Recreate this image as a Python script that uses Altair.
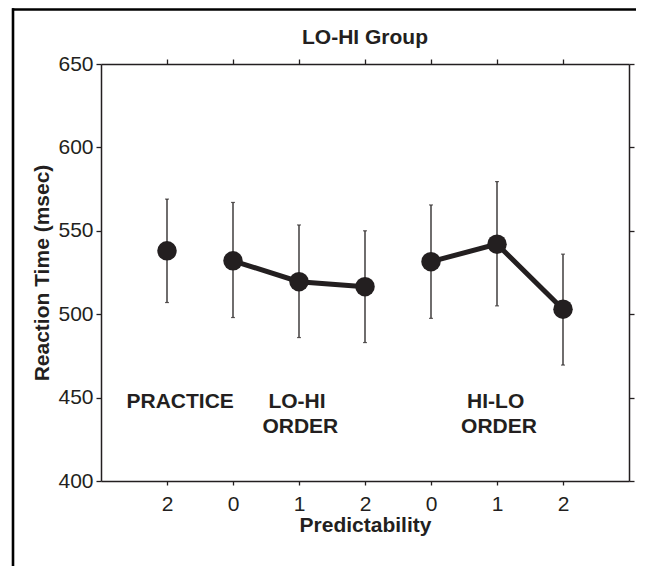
import altair as alt
import pandas as pd

# ---- data ----
positions = [1, 2, 3, 4, 5, 6, 7]
condition = ["PRACTICE", "LO-HI", "LO-HI", "LO-HI", "HI-LO", "HI-LO", "HI-LO"]
predictability = ["2", "0", "1", "2", "0", "1", "2"]
mean_rt = [538, 532, 519.5, 516.5, 531.5, 542, 503]
ci_low = [507, 498, 486, 483, 497.5, 505, 469.5]
ci_high = [569, 567, 553.5, 550, 565.5, 579.5, 536]

y_ticks = [400, 450, 500, 550, 600, 650]

ann_text = ["PRACTICE", "LO-HI", "ORDER", "HI-LO", "ORDER"]
ann_x = [1.2, 2.97, 3.02, 5.98, 6.03]
ann_y = [447.4, 447.4, 432.2, 447.4, 432.2]

chart_title = "LO-HI Group"

df = pd.DataFrame({
    "pos": positions,
    "cond": condition,
    "pred": predictability,
    "rt": mean_rt,
    "lo": ci_low,
    "hi": ci_high,
})
ann = pd.DataFrame({"text": ann_text, "x": ann_x, "y": ann_y})
title_df = pd.DataFrame({"text": [chart_title]})

INK = "#231f20"
FONT = "Liberation Sans"

label_expr = "[" + ",".join("'%s'" % p for p in predictability) + "][datum.value - 1]"

xscale = alt.Scale(domain=[0, 8], nice=False, zero=False)
yscale = alt.Scale(domain=[400, 650], nice=False, zero=False)

x_bottom = alt.Axis(orient="bottom", values=positions, labelExpr=label_expr,
                    title="Predictability", grid=False, tickSize=4,
                    labelPadding=8, titlePadding=0)
y_left = alt.Axis(orient="left", values=y_ticks, title="Reaction Time (msec)",
                  grid=False, tickSize=5, labelPadding=3, titlePadding=5)

base = alt.Chart(df)

err = base.mark_rule(color=INK, strokeWidth=1.3).encode(
    x=alt.X("pos:Q", scale=xscale, axis=x_bottom),
    y=alt.Y("lo:Q", scale=yscale, axis=y_left),
    y2="hi:Q",
)
caps_lo = base.mark_tick(color=INK, size=4, thickness=1.2, orient="horizontal").encode(
    x=alt.X("pos:Q", scale=xscale), y=alt.Y("lo:Q", scale=yscale))
caps_hi = base.mark_tick(color=INK, size=4, thickness=1.2, orient="horizontal").encode(
    x=alt.X("pos:Q", scale=xscale), y=alt.Y("hi:Q", scale=yscale))

lines = base.mark_line(color=INK, strokeWidth=5).encode(
    x=alt.X("pos:Q", scale=xscale),
    y=alt.Y("rt:Q", scale=yscale),
    detail="cond:N",
)
dots = base.mark_circle(color=INK, opacity=1, size=380).encode(
    x=alt.X("pos:Q", scale=xscale),
    y=alt.Y("rt:Q", scale=yscale),
)

texts = alt.Chart(ann).mark_text(font=FONT, fontSize=21, fontWeight="bold",
                                 color=INK, align="center", baseline="middle").encode(
    x=alt.X("x:Q", scale=xscale),
    y=alt.Y("y:Q", scale=yscale),
    text="text:N",
)

title_mark = alt.Chart(title_df).mark_text(
    font=FONT, fontSize=21, fontWeight="bold", color=INK,
    align="center", baseline="middle", clip=False
).encode(x=alt.value(264), y=alt.value(-26), text="text:N")

mirror = base.mark_point(opacity=0).encode(
    x=alt.X("pos:Q", scale=xscale,
            axis=alt.Axis(orient="top", values=positions, labels=False, title=None,
                          grid=False, tickSize=5)),
    y=alt.Y("rt:Q", scale=yscale,
            axis=alt.Axis(orient="right", values=y_ticks, labels=False, title=None,
                          grid=False, tickSize=5)),
)

frame_top = alt.Chart(title_df).mark_rule(color="black", strokeWidth=2.6, clip=False).encode(
    x=alt.value(-89), x2=alt.value(535), y=alt.value(-54.5))
frame_left = alt.Chart(title_df).mark_rule(color="black", strokeWidth=2.6, clip=False).encode(
    x=alt.value(-88), y=alt.value(-55.8), y2=alt.value(502))

main = alt.layer(err, caps_lo, caps_hi, lines, dots, texts)

chart = alt.layer(main, mirror, title_mark, frame_top, frame_left).resolve_axis(
    x="independent", y="independent"
).properties(
    width=528, height=417,
    autosize=alt.AutoSizeParams(type="none"),
    padding={"left": 93, "top": 56, "right": 7, "bottom": 85},
).configure_view(
    stroke=None
).configure_axis(
    domainColor=INK, domainWidth=1.5, tickColor=INK, tickWidth=1.3,
    labelFont=FONT, labelFontSize=21, labelColor=INK,
    titleFont=FONT, titleFontSize=21, titleFontWeight="bold", titleColor=INK,
).configure_axisRight(
    domain=True
)

chart.save("out.html", embed_options={"renderer": "svg", "actions": False})
